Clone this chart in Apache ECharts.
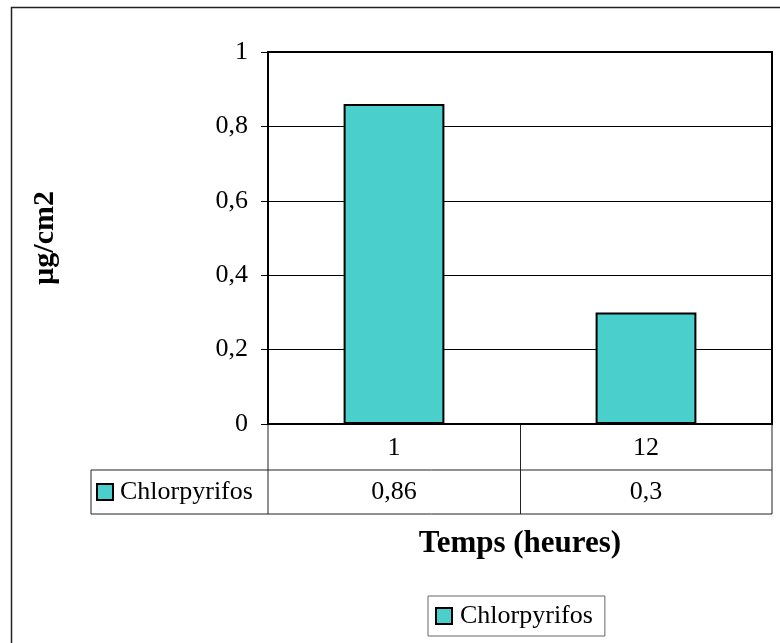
<!DOCTYPE html>
<html>
<head>
<meta charset="utf-8">
<script src="https://cdn.jsdelivr.net/npm/echarts@6/dist/echarts.min.js"></script>
<style>
  html, body { margin: 0; padding: 0; background: #fff; }
  #chart { width: 780px; height: 643px; }
</style>
</head>
<body>
<div id="chart"></div>
<script>
// Chlorpyrifos residue over time
const categories = ['1', '12'];
const seriesName = 'Chlorpyrifos';
const values = [0.86, 0.3];
const yMin = 0, yMax = 1, yStep = 0.2;
const yTitle = 'µg/cm2';
const xTitle = 'Temps (heures)';

const FONT = '"Liberation Serif", "Times New Roman", serif';
const FS = 26;
const BAR_COLOR = '#4BCFCC';
const W = 780, H = 643;
const GRID = { left: 268, top: 52, right: 8, bottom: 219 };

const fmt = v => String(Math.round(v * 100) / 100).replace('.', ',');

const chart = echarts.init(document.getElementById('chart'), null, { renderer: 'canvas' });

chart.setOption({
  backgroundColor: '#fff',
  animation: false,
  textStyle: { fontFamily: FONT },
  grid: {
    left: GRID.left, top: GRID.top, right: GRID.right, bottom: GRID.bottom,
    show: true, borderColor: '#000', borderWidth: 2, backgroundColor: 'transparent'
  },
  legend: {
    data: [seriesName],
    left: 428, top: 596,
    padding: [7, 12, 7, 7],
    borderColor: '#666', borderWidth: 1,
    itemWidth: 16, itemHeight: 16,
    icon: 'rect',
    itemStyle: { borderColor: '#000', borderWidth: 2 },
    textStyle: { fontFamily: FONT, fontSize: FS, color: '#000', padding: [0, 0, 0, 3] }
  },
  xAxis: {
    type: 'category',
    data: categories,
    name: xTitle,
    nameLocation: 'middle',
    nameGap: 104,
    nameTextStyle: { fontFamily: FONT, fontSize: 31, fontWeight: 'bold', color: '#000' },
    axisLine: { lineStyle: { color: '#000', width: 2 } },
    axisTick: { show: false },
    axisLabel: { fontFamily: FONT, fontSize: FS, color: '#000', margin: 11 },
    splitLine: { show: false }
  },
  yAxis: {
    type: 'value',
    min: yMin, max: yMax, interval: yStep,
    name: yTitle,
    nameLocation: 'middle',
    nameRotate: 90,
    nameGap: 208,
    nameTextStyle: { fontFamily: FONT, fontSize: 30, fontWeight: 'bold', color: '#000' },
    axisLine: { show: true, lineStyle: { color: '#000', width: 2 } },
    axisTick: { show: true, length: 7, lineStyle: { color: '#000', width: 1 } },
    axisLabel: { fontFamily: FONT, fontSize: FS, color: '#000', margin: 20, formatter: fmt },
    splitLine: { show: true, lineStyle: { color: '#000', width: 1 } }
  },
  series: [{
    name: seriesName,
    type: 'bar',
    data: values,
    barWidth: '40%',
    itemStyle: { color: BAR_COLOR, borderColor: '#000', borderWidth: 2 }
  }]
});

// Data table under the plot: category row + value row
const plotL = GRID.left, plotR = W - GRID.right, plotB = H - GRID.bottom;
const row1B = plotB + 46, row2B = row1B + 44;
const headL = 91;
const tableLine = { stroke: '#222', lineWidth: 1 };
const elements = [];
const line = (x1, y1, x2, y2) => elements.push({
  type: 'line', shape: { x1, y1, x2, y2 }, style: tableLine, silent: true
});

line(plotL, plotB, plotL, row2B);
line(plotR, plotB, plotR, row2B);
line(headL, row1B, plotR, row1B);
line(headL, row2B, plotR, row2B);
line(headL, row1B, headL, row2B);
for (let i = 1; i < categories.length; i++) {
  const xa = chart.convertToPixel({ xAxisIndex: 0 }, categories[i - 1]);
  const xb = chart.convertToPixel({ xAxisIndex: 0 }, categories[i]);
  const xm = Math.round((xa + xb) / 2) + 0.5;
  line(xm, plotB, xm, row2B);
}
const rowMid = (row1B + row2B) / 2;
values.forEach((v, i) => {
  elements.push({
    type: 'text', silent: true,
    x: chart.convertToPixel({ xAxisIndex: 0 }, categories[i]), y: rowMid,
    style: { text: fmt(v), fontFamily: FONT, fontSize: FS, fill: '#000', align: 'center', verticalAlign: 'middle' }
  });
});
// series key in the table header cell
elements.push({
  type: 'rect', silent: true,
  shape: { x: 97, y: rowMid - 8, width: 16, height: 16 },
  style: { fill: BAR_COLOR, stroke: '#000', lineWidth: 2 }
});
elements.push({
  type: 'text', silent: true, x: 120, y: rowMid,
  style: { text: seriesName, fontFamily: FONT, fontSize: FS, fill: '#000', align: 'left', verticalAlign: 'middle' }
});
// outer chart frame
elements.push({
  type: 'rect', silent: true, z: -1,
  shape: { x: 11.5, y: 7.5, width: 900, height: 900 },
  style: { fill: 'transparent', stroke: '#222', lineWidth: 1.5 }
});

chart.setOption({ graphic: { elements } });
</script>
</body>
</html>
